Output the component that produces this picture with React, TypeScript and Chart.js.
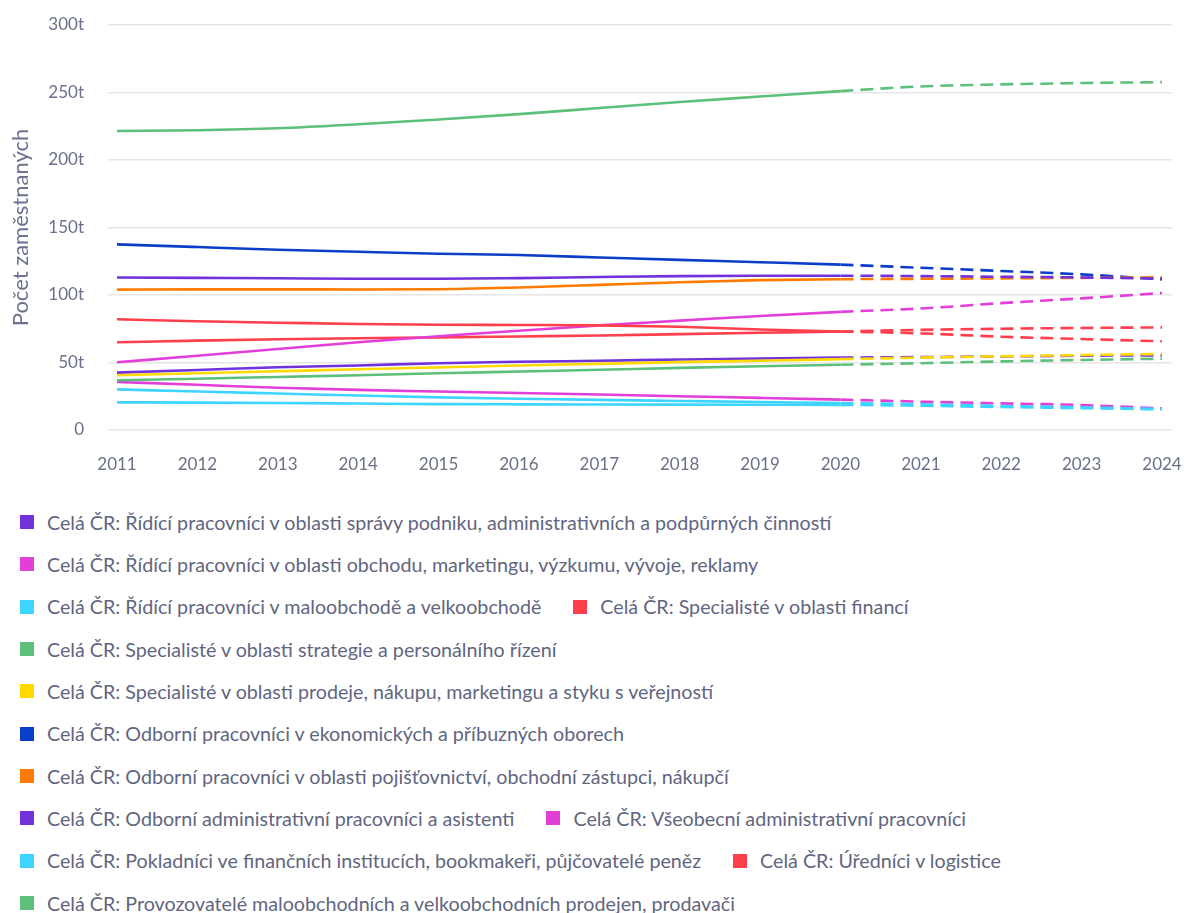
import React, { useEffect, useRef } from "react";
import { Chart, registerables } from "chart.js";

Chart.register(...registerables);

const years = [2011, 2012, 2013, 2014, 2015, 2016, 2017, 2018, 2019, 2020, 2021, 2022, 2023, 2024];
const lastActualIndex = 9; // 2020: later values are forecast (dashed)

const yTickValues = [0, 50, 100, 150, 200, 250, 300];
const yAxisTitle = "Počet zaměstnaných";

const seriesNames = [
  "Celá ČR: Řídící pracovníci v oblasti správy podniku, administrativních a podpůrných činností",
  "Celá ČR: Řídící pracovníci v oblasti obchodu, marketingu, výzkumu, vývoje, reklamy",
  "Celá ČR: Řídící pracovníci v maloobchodě a velkoobchodě",
  "Celá ČR: Specialisté v oblasti financí",
  "Celá ČR: Specialisté v oblasti strategie a personálního řízení",
  "Celá ČR: Specialisté v oblasti prodeje, nákupu, marketingu a styku s veřejností",
  "Celá ČR: Odborní pracovníci v ekonomických a příbuzných oborech",
  "Celá ČR: Odborní pracovníci v oblasti pojišťovnictví, obchodní zástupci, nákupčí",
  "Celá ČR: Odborní administrativní pracovníci a asistenti",
  "Celá ČR: Všeobecní administrativní pracovníci",
  "Celá ČR: Pokladníci ve finančních institucích, bookmakeři, půjčovatelé peněz",
  "Celá ČR: Úředníci v logistice",
  "Celá ČR: Provozovatelé maloobchodních a velkoobchodních prodejen, prodavači",
];

const seriesColors = [
  "#7132dc",
  "#e23fd8",
  "#3dd4ff",
  "#ff3f4c",
  "#5cc07b",
  "#ffd900",
  "#0b3ec8",
  "#ff7b00",
  "#7132dc",
  "#e23fd8",
  "#3dd4ff",
  "#ff3f4c",
  "#5cc07b",
];

// values in thousands of employees
const rizeniSpravy = [42.5, 44.5, 46.5, 47.8, 49.5, 50.5, 51.3, 52.2, 53.0, 53.6, 54.0, 54.5, 55.0, 55.3];
const rizeniObchodu = [35.6, 33.5, 31.3, 29.7, 28.5, 27.4, 26.3, 25.0, 23.8, 22.5, 21.0, 19.7, 18.5, 16.0];
const rizeniMaloobchod = [30.1, 28.5, 27.0, 25.5, 24.2, 23.2, 22.3, 21.5, 20.7, 20.0, 19.0, 17.8, 16.8, 15.5];
const specialisteFinance = [65.0, 66.2, 67.2, 68.0, 68.6, 69.3, 70.0, 71.0, 72.0, 73.0, 74.2, 75.0, 75.6, 76.0];
const specialisteStrategie = [36.8, 38.0, 39.3, 40.6, 42.0, 43.3, 44.6, 46.0, 47.2, 48.3, 49.5, 50.8, 51.9, 52.8];
const specialisteProdej = [40.5, 42.0, 43.5, 45.0, 46.4, 47.8, 49.0, 50.3, 51.3, 52.5, 53.6, 54.6, 55.5, 56.3];
const odborniEkonom = [137.5, 135.5, 133.5, 132.0, 130.6, 129.6, 127.8, 126.0, 124.3, 122.5, 120.2, 117.8, 115.3, 111.6];
const odborniPojistovnictvi = [104.0, 104.2, 104.2, 104.1, 104.3, 105.5, 107.5, 109.5, 111.0, 111.7, 112.0, 112.3, 112.7, 113.1];
const odborniAdmin = [113.0, 112.7, 112.4, 112.0, 112.0, 112.5, 113.3, 114.0, 114.3, 114.3, 114.0, 113.5, 113.0, 112.1];
const vseobecniAdmin = [50.2, 55.0, 60.0, 65.0, 69.5, 73.5, 77.5, 81.0, 84.5, 87.5, 90.0, 94.0, 97.5, 101.5];
const pokladnici = [20.5, 20.3, 20.0, 19.6, 19.2, 19.0, 18.9, 18.8, 18.7, 18.6, 18.0, 17.0, 16.2, 15.3];
const uredniciLogistika = [82.0, 80.5, 79.5, 78.5, 78.0, 77.8, 77.5, 76.5, 74.5, 73.0, 71.6, 69.1, 67.4, 65.7];
const prodavaci = [221.5, 222.0, 223.5, 226.5, 230.0, 234.0, 238.5, 243.0, 247.0, 251.0, 254.5, 256.0, 257.0, 257.7];

const seriesValues = [
  rizeniSpravy,
  rizeniObchodu,
  rizeniMaloobchod,
  specialisteFinance,
  specialisteStrategie,
  specialisteProdej,
  odborniEkonom,
  odborniPojistovnictvi,
  odborniAdmin,
  vseobecniAdmin,
  pokladnici,
  uredniciLogistika,
  prodavaci,
];

const FONT = "Lato, 'Noto Sans', sans-serif";
const TEXT_COLOR = "#6a7089";

function LineChart() {
  const canvasRef = useRef<HTMLCanvasElement | null>(null);

  useEffect(() => {
    if (!canvasRef.current) return;
    const datasets = seriesValues.map((vals, i) => ({
      label: seriesNames[i],
      data: vals.map((v, j) => ({ x: years[j], y: v })),
      borderColor: seriesColors[i],
      backgroundColor: seriesColors[i],
      borderWidth: 2.6,
      pointRadius: 0,
      pointHoverRadius: 0,
      fill: false,
      cubicInterpolationMode: "monotone" as const,
      order: seriesValues.length - i,
      segment: {
        borderDash: (ctx: any) => (ctx.p0DataIndex >= lastActualIndex ? [13, 7] : undefined),
      },
    }));

    const chart = new Chart(canvasRef.current, {
      type: "line",
      data: { datasets },
      options: {
        animation: false,
        responsive: false,
        maintainAspectRatio: false,
        layout: { padding: { left: 0, right: 12, top: 17, bottom: 26 } },
        plugins: {
          legend: { display: false },
          tooltip: { enabled: false },
        },
        scales: {
          x: {
            type: "linear",
            min: years[0] - 9 / 80.38,
            max: years[years.length - 1] + 10 / 80.38,
            grid: { display: false, drawTicks: false },
            border: { display: false },
            ticks: {
              stepSize: 1,
              includeBounds: false,
              autoSkip: false,
              maxRotation: 0,
              padding: 24,
              color: TEXT_COLOR,
              font: { family: FONT, size: 17 },
              callback: (v: any) => String(v),
            },
            afterFit: (scale: any) => {
              scale.height = 45;
              scale.paddingLeft = 0;
              scale.paddingRight = 0;
            },
          },
          y: {
            type: "linear",
            min: yTickValues[0],
            max: yTickValues[yTickValues.length - 1],
            grid: { color: "#e6e6e6", lineWidth: 1.5, drawTicks: false },
            border: { display: false },
            ticks: {
              stepSize: 50,
              padding: 24,
              color: TEXT_COLOR,
              font: { family: FONT, size: 17 },
              callback: (v: any) => (v === 0 ? "0" : `${v}t`),
            },
            title: {
              display: true,
              text: yAxisTitle,
              color: "#6b7290",
              font: { family: FONT, size: 22 },
              padding: 0,
            },
            afterFit: (scale: any) => {
              scale.width = 100;
              scale.paddingTop = 0;
              scale.paddingBottom = 0;
            },
          },
        },
      },
    });
    return () => chart.destroy();
  }, []);

  return <canvas ref={canvasRef} width={1176} height={493} style={{ display: "block" }} />;
}

function Legend() {
  return (
    <div
      style={{
        display: "flex",
        flexWrap: "wrap",
        columnGap: 32,
        paddingLeft: 12,
        width: 1168,
        boxSizing: "border-box",
        fontFamily: FONT,
        fontSize: 19.7,
        color: "#5f6680",
      }}
    >
      {seriesNames.map((name, i) => (
        <div key={i} style={{ display: "flex", alignItems: "center", height: 42.33, whiteSpace: "nowrap" }}>
          <span
            style={{
              display: "inline-block",
              width: 14,
              height: 14,
              background: seriesColors[i],
              marginRight: 13,
              flex: "0 0 auto",
            }}
          />
          <span>{name}</span>
        </div>
      ))}
    </div>
  );
}

export default function App() {
  return (
    <div style={{ width: 1184, height: 913, boxSizing: "border-box", padding: "8px 0 0 8px", overflow: "hidden" }}>
      <style>{"html,body{margin:0;padding:0;overflow:hidden;}"}</style>
      <LineChart />
      <Legend />
    </div>
  );
}
